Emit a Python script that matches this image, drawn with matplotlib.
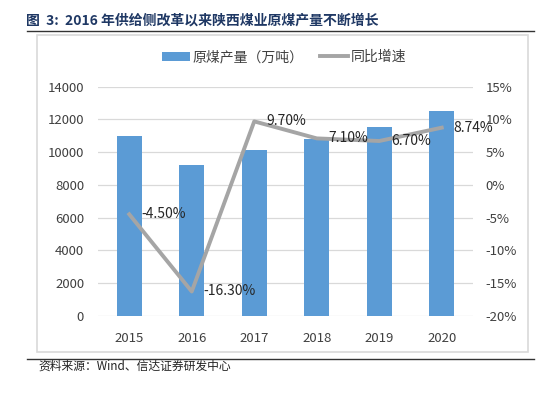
import matplotlib
matplotlib.use("Agg")
import matplotlib.pyplot as plt
from matplotlib.patches import Rectangle
from matplotlib.lines import Line2D
from matplotlib.ticker import FuncFormatter

plt.rcParams["font.family"] = ["Noto Sans CJK SC", "DejaVu Sans"]

# data
years = ["2015", "2016", "2017", "2018", "2019", "2020"]
output = [11000, 9200, 10100, 10820, 11550, 12540]      # 原煤产量 (万吨)
growth = [-4.50, -16.30, 9.70, 7.10, 6.70, 8.74]        # 同比增速 (%)

BAR = "#5B9BD5"
LINE = "#A5A5A5"
TXT = "#404040"
GRID = "#D9D9D9"

fig = plt.figure(figsize=(5.44, 3.93), dpi=100)
W, H = 544, 393

def fx(px):
    return px / W

def fy(py):
    return 1 - py / H

# title, frame and rules (pixel positions of the reference)
fig.text(fx(26), fy(21), "图  3:  2016 年供给侧改革以来陕西煤业原煤产量不断增长",
         fontsize=10, fontweight="bold", color="#1F3864", va="center")
fig.add_artist(Line2D([fx(27), fx(534)], [fy(31), fy(31)], color="#333333", lw=1.0))
fig.add_artist(Rectangle((fx(37), fy(352)), fx(528) - fx(37), fy(35) - fy(352),
                         fill=False, ec=GRID, lw=1.2))
fig.add_artist(Line2D([fx(27), fx(534)], [fy(359), fy(359)], color="#333333", lw=1.0))
fig.text(fx(38), fy(366), "资料来源：Wind、信达证券研发中心", fontsize=8.5,
         style="italic", color="#222222", va="center")

ax = fig.add_axes([fx(98), fy(315.7), fx(473) - fx(98), fy(86.7) - fy(315.7)])
x = list(range(len(years)))
ax.bar(x, output, width=0.4, color=BAR, label="原煤产量（万吨）", zorder=2)
ax.set_ylim(0, 14000)
ax.set_yticks(range(0, 14001, 2000))
ax.set_xlim(-0.5, len(years) - 0.5)
ax.set_xticks(x)
ax.set_xticklabels(years)
ax.grid(axis="y", color=GRID, lw=0.9, zorder=0)
ax.set_axisbelow(True)

ax2 = ax.twinx()
ax2.plot(x, growth, color=LINE, lw=2.8, label="同比增速", zorder=3)
ax2.set_ylim(-20, 15)
ax2.set_yticks(range(-20, 16, 5))
ax2.yaxis.set_major_formatter(FuncFormatter(lambda v, p: f"{v:.0f}%"))

for i, g in enumerate(growth):
    ax2.annotate(f"{g:.2f}%", (x[i], g), xytext=(8.5, 0), textcoords="offset points",
                 fontsize=10, color="#262626", ha="left", va="center")

for a in (ax, ax2):
    for s in a.spines.values():
        s.set_visible(False)
    a.tick_params(axis="both", labelsize=9.5, colors=TXT, length=0)
ax.tick_params(axis="x", pad=12)
ax.tick_params(axis="y", pad=10)
ax2.tick_params(axis="y", pad=9)

h1, l1 = ax.get_legend_handles_labels()
h2, l2 = ax2.get_legend_handles_labels()
fig.legend(h1 + h2, l1 + l2, loc="center", bbox_to_anchor=(fx(284), fy(57)),
           ncol=2, frameon=False, fontsize=10, handlelength=2.0, handleheight=0.6,
           handletextpad=0.2, columnspacing=1.2, labelcolor=TXT)

fig.savefig("out.png", dpi=100)
